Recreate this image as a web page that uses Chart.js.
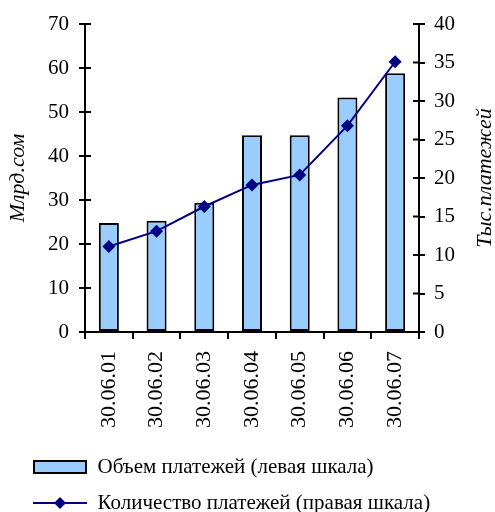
<!DOCTYPE html>
<html>
<head>
<meta charset="utf-8">
<script src="https://cdn.jsdelivr.net/npm/chart.js@4/dist/chart.umd.min.js"></script>
<style>
  html, body { margin: 0; padding: 0; background: #fff; }
  #wrap { width: 495px; height: 512px; }
</style>
</head>
<body>
<div id="wrap"><canvas id="chartPayments"></canvas></div>
<script>
const labels = ['30.06.01', '30.06.02', '30.06.03', '30.06.04', '30.06.05', '30.06.06', '30.06.07'];
const volume = [24.8, 25.3, 29.4, 44.7, 44.7, 53.3, 58.8];   // млрд. сом
const count = [11.1, 13.1, 16.3, 19.1, 20.4, 26.8, 35.1];    // тыс. платежей
const leftTicks = [0, 10, 20, 30, 40, 50, 60, 70];
const rightTicks = [0, 5, 10, 15, 20, 25, 30, 35, 40];

const serif = '"Liberation Serif", "Times New Roman", serif';
const barColor = '#99CCFF';
const lineColor = '#000080';

// legend symbols
function barSymbol() {
  const c = document.createElement('canvas');
  c.width = 54; c.height = 14;
  const g = c.getContext('2d');
  g.fillStyle = barColor;
  g.fillRect(1, 1, 52, 12);
  g.strokeStyle = '#000';
  g.lineWidth = 2;
  g.strokeRect(1, 1, 52, 12);
  return c;
}
function lineSymbol() {
  const c = document.createElement('canvas');
  c.width = 54; c.height = 14;
  const g = c.getContext('2d');
  g.strokeStyle = lineColor;
  g.lineWidth = 2;
  g.beginPath(); g.moveTo(0, 7); g.lineTo(54, 7); g.stroke();
  g.fillStyle = lineColor;
  g.beginPath(); g.moveTo(27, 1); g.lineTo(33, 7); g.lineTo(27, 13); g.lineTo(21, 7); g.closePath(); g.fill();
  return c;
}
const symbols = [barSymbol(), lineSymbol()];

// ticks that cross the axis line, and rotated titles
const axisExtras = {
  id: 'axisExtras',
  afterDraw(chart) {
    const ctx = chart.ctx;
    const area = chart.chartArea;
    ctx.save();
    ctx.strokeStyle = '#000';
    ctx.lineWidth = 2;
    [['y', area.left, 1], ['y1', area.right, -1]].forEach(([id, x, dir]) => {
      const s = chart.scales[id];
      s.ticks.forEach(t => {
        const y = s.getPixelForValue(t.value);
        ctx.beginPath(); ctx.moveTo(x, y); ctx.lineTo(x + dir * 6, y); ctx.stroke();
      });
    });
    ctx.fillStyle = '#000';
    ctx.font = 'italic 22px ' + serif;
    ctx.textAlign = 'center';
    ctx.textBaseline = 'middle';
    const cy = (area.top + area.bottom) / 2;
    [['Млрд.сом', 18], ['Тыс.платежей', 485]].forEach(([txt, x]) => {
      ctx.save();
      ctx.translate(x, cy);
      ctx.rotate(-Math.PI / 2);
      ctx.fillText(txt, 0, 0);
      ctx.restore();
    });
    ctx.restore();
  }
};

const ctx = document.getElementById('chartPayments').getContext('2d');
const myChart = new Chart(ctx, {
  type: 'bar',
  data: {
    labels: labels,
    datasets: [
      {
        type: 'bar',
        label: 'Объем платежей (левая шкала)',
        data: volume,
        yAxisID: 'y',
        backgroundColor: barColor,
        borderColor: '#000',
        borderWidth: 2,
        borderSkipped: false,
        categoryPercentage: 1,
        barPercentage: 0.42,
        order: 1
      },
      {
        type: 'line',
        label: 'Количество платежей (правая шкала)',
        data: count,
        yAxisID: 'y1',
        borderColor: lineColor,
        backgroundColor: lineColor,
        borderWidth: 2,
        pointStyle: 'rectRot',
        pointRadius: 6.5,
        pointBorderWidth: 0,
        tension: 0,
        order: 0
      }
    ]
  },
  options: {
    responsive: true,
    maintainAspectRatio: false,
    animation: false,
    layout: { padding: { left: 18, right: 8, top: 24, bottom: -11.5 } },
    plugins: {
      tooltip: { enabled: false },
      legend: {
        position: 'bottom',
        align: 'start',
        labels: {
          color: '#000',
          font: { family: serif, size: 21, lineHeight: 1 },
          padding: 15,
          usePointStyle: true,
          pointStyleWidth: 54,
          generateLabels(chart) {
            const items = Chart.defaults.plugins.legend.labels.generateLabels(chart);
            items.sort((a, b) => a.datasetIndex - b.datasetIndex);
            items.forEach(it => { it.pointStyle = symbols[it.datasetIndex]; });
            return items;
          }
        }
      }
    },
    scales: {
      x: {
        afterFit(s) { s.height = 109.5; },
        grid: { drawOnChartArea: false, offset: true, color: '#000', lineWidth: 2, tickLength: 7 },
        border: { display: true, color: '#000', width: 2 },
        ticks: {
          color: '#000',
          font: { family: serif, size: 22 },
          minRotation: 90,
          maxRotation: 90,
          padding: 12
        }
      },
      y: {
        position: 'left',
        min: 0,
        max: 70,
        afterBuildTicks(s) { s.ticks = leftTicks.map(v => ({ value: v })); },
        afterFit(s) { s.width = 67; },
        grid: { drawOnChartArea: false, color: '#000', lineWidth: 2, tickLength: 6 },
        border: { display: true, color: '#000', width: 2 },
        ticks: { color: '#000', font: { family: serif, size: 21 }, padding: 10 }
      },
      y1: {
        position: 'right',
        min: 0,
        max: 40,
        afterBuildTicks(s) { s.ticks = rightTicks.map(v => ({ value: v })); },
        afterFit(s) { s.width = 68; },
        grid: { drawOnChartArea: false, color: '#000', lineWidth: 2, tickLength: 6 },
        border: { display: true, color: '#000', width: 2 },
        ticks: { color: '#000', font: { family: serif, size: 21 }, padding: 9 }
      }
    }
  },
  plugins: [axisExtras]
});
</script>
</body>
</html>
